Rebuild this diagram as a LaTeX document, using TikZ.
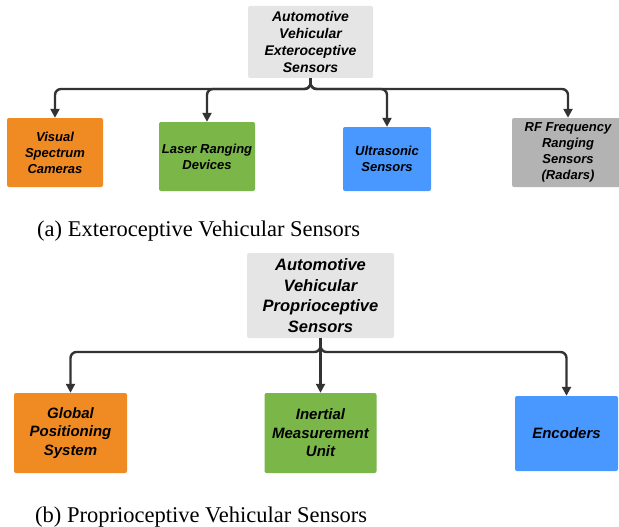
\documentclass[tikz,border=0pt]{standalone}
\usepackage{fontspec}
\setmainfont{Liberation Serif}
\setsansfont{Liberation Sans}
\usetikzlibrary{arrows.meta}
\definecolor{rootgray}{RGB}{229,229,229}
\definecolor{radargray}{RGB}{179,179,179}
\definecolor{camorange}{RGB}{240,139,35}
\definecolor{lasergreen}{RGB}{122,182,72}
\definecolor{sonicblue}{RGB}{72,152,255}
\definecolor{linegray}{RGB}{51,51,51}
\begin{document}
\begin{tikzpicture}[x=1pt,y=-1pt,
  box/.style={rounded corners=2pt,align=center,inner sep=0pt,font=\sffamily\bfseries\itshape},
  conn/.style={draw=linegray,line width=2.4pt,rounded corners=6pt,-{Triangle[length=9pt,width=9pt]}}]
\useasboundingbox (0,0) rectangle (619,527);
% Exteroceptive sensors
\begin{scope}[every node/.append style={box}]
\node[fill=rootgray,minimum width=125,minimum height=72,font=\sffamily\bfseries\itshape\fontsize{14}{17}\selectfont] (extroot) at (310.5,42) {Automotive\\Vehicular\\Exteroceptive\\Sensors};
\node[fill=camorange,minimum width=96,minimum height=69,font=\sffamily\bfseries\itshape\fontsize{13}{16}\selectfont] (cam) at (55,152.5) {Visual\\Spectrum\\Cameras};
\node[fill=lasergreen,minimum width=96,minimum height=69,font=\sffamily\bfseries\itshape\fontsize{13}{16}\selectfont] (laser) at (207,156.5) {Laser Ranging\\Devices};
\node[fill=sonicblue,minimum width=88,minimum height=64,font=\sffamily\bfseries\itshape\fontsize{13}{16}\selectfont] (sonic) at (387,159) {Ultrasonic\\Sensors};
\node[fill=radargray,minimum width=112,minimum height=69,font=\sffamily\bfseries\itshape\fontsize{13}{16}\selectfont] (radar) at (568,152.5) {RF Frequency\\Ranging\\Sensors\\(Radars)};
\end{scope}
\coordinate (extbus) at (310.5,89);
\draw[conn] (extroot.south) -- (extbus) -| (cam.north);
\draw[conn] (extroot.south) -- (extbus) -| (laser.north);
\draw[conn] (extroot.south) -- (extbus) -| (sonic.north);
\draw[conn] (extroot.south) -- (extbus) -| (radar.north);
\node[anchor=base west,inner sep=0pt,font=\fontsize{22.5}{27}\selectfont] (extcap) at (37,236) {(a) Exteroceptive Vehicular Sensors};

% Proprioceptive sensors
\begin{scope}[every node/.append style={box}]
\node[fill=rootgray,minimum width=147,minimum height=85,font=\sffamily\bfseries\itshape\fontsize{16.5}{20.5}\selectfont] (proroot) at (320.5,295.5) {Automotive\\Vehicular\\Proprioceptive\\Sensors};
\node[fill=camorange,minimum width=113,minimum height=80,font=\sffamily\bfseries\itshape\fontsize{15}{18.5}\selectfont] (gps) at (70.5,433) {Global\\Positioning\\System};
\node[fill=lasergreen,minimum width=112,minimum height=80,font=\sffamily\bfseries\itshape\fontsize{15}{18.5}\selectfont] (imu) at (320.5,433) {Inertial\\Measurement\\Unit};
\node[fill=sonicblue,minimum width=103,minimum height=75,font=\sffamily\bfseries\itshape\fontsize{15}{18.5}\selectfont] (enc) at (566.5,433.5) {Encoders};
\end{scope}
\coordinate (probus) at (320.5,352);
\draw[conn] (proroot.south) -- (probus) -| (gps.north);
\draw[conn] (proroot.south) -- (imu.north);
\draw[conn] (proroot.south) -- (probus) -| (enc.north);
\node[anchor=base west,inner sep=0pt,font=\fontsize{22.5}{27}\selectfont] (procap) at (35,522) {(b) Proprioceptive Vehicular Sensors};
\end{tikzpicture}
\end{document}
